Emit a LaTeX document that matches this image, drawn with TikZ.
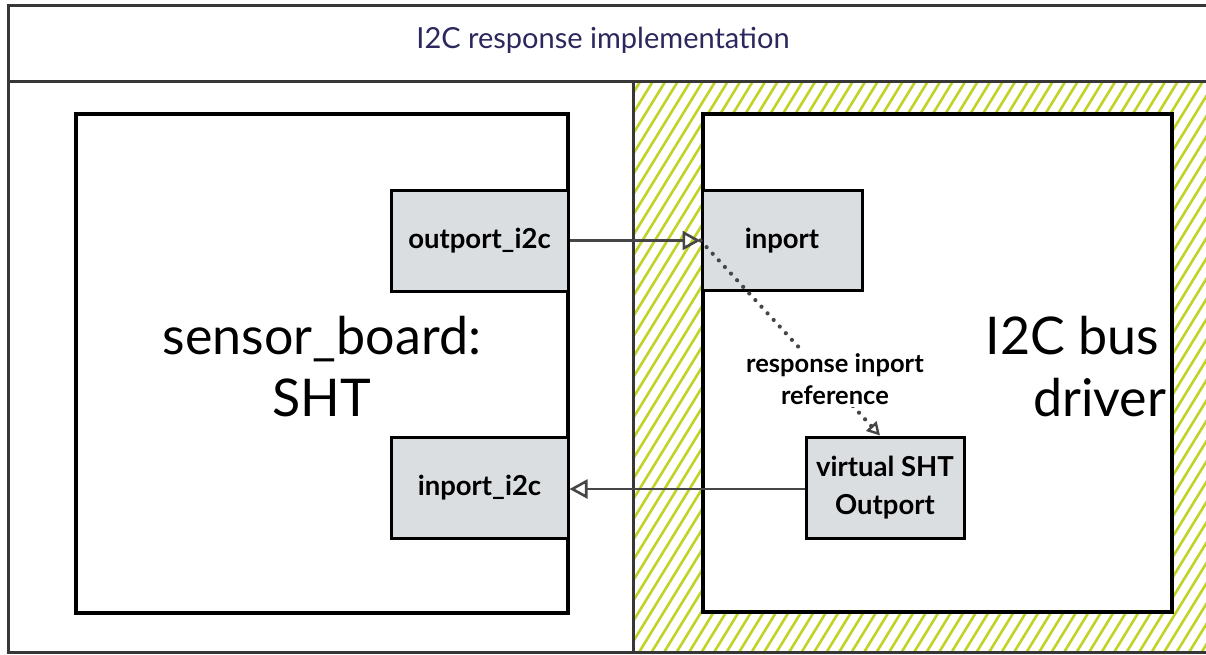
\documentclass[tikz,border=0pt]{standalone}
\usepackage{fontspec}
\setmainfont{Lato}
\usetikzlibrary{arrows.meta}
\definecolor{framegray}{RGB}{55,55,55}
\definecolor{titlenavy}{RGB}{42,40,92}
\definecolor{portfill}{RGB}{218,222,225}
\definecolor{hatchlime}{RGB}{193,211,38}
\definecolor{wiregray}{RGB}{70,70,70}
\tikzset{
  component/.style={draw=black, line width=3.2pt, fill=white, inner sep=0pt},
  portbox/.style={draw=black, line width=3pt, fill=portfill, inner sep=0pt,
    font=\fontsize{27.5}{33}\selectfont\bfseries, align=center},
  wire/.style={draw=wiregray, line width=2.8pt, -{Triangle[open, length=18pt, width=19pt, line width=2.6pt]}},
  refwire/.style={draw=wiregray, line width=4.2pt, line cap=round, dash pattern=on 0pt off 9pt,
    -{Triangle[open, length=13pt, width=14pt, line width=2.4pt, line cap=butt]}},
  bigtext/.style={font=\fontsize{52}{62}\selectfont, align=center},
}
\begin{document}
\begin{tikzpicture}[x=1pt, y=-1pt]
  \useasboundingbox (0,0) rectangle (1206,654);
  % hatched background of the driver side
  \begin{scope}
    \clip (633,81) rectangle (1206,652);
    \foreach \i in {0,...,80} {
      \draw[hatchlime, line width=2.6pt] ({633-360+\i*12.5},658) -- ++(360,-585);
    }
  \end{scope}
  % outer frame, title bar and divider
  \draw[framegray, line width=3pt] (8,5) rectangle (1212,652);
  \draw[framegray, line width=3pt] (8,81) -- (1206,81);
  \draw[framegray, line width=3pt] (633,81) -- (633,652);
  \node[font=\fontsize{29}{35}\selectfont, text=titlenavy] (title) at (603,40) {I2C response implementation};
  % the two components
  \node[component, minimum width=492pt, minimum height=499pt] (board) at (322,363.5) {};
  \node[bigtext] (boardlabel) at (322,367) {sensor\_board:\\SHT};
  \node[component, minimum width=469pt, minimum height=498pt] (driver) at (937.5,363) {};
  \node[bigtext, anchor=center] (driverlabel) at (1072.5,367) {I2C bus\\\hspace*{54pt}driver};
  % ports
  \node[portbox, minimum width=177pt, minimum height=101pt] (outi2c) at (479.5,240.5) {outport\_i2c};
  \node[portbox, minimum width=160pt, minimum height=100pt] (inport) at (782,240.5) {inport};
  \node[portbox, minimum width=177pt, minimum height=101pt] (ini2c) at (479.5,487.5) {inport\_i2c};
  \node[portbox, minimum width=158pt, minimum height=101pt, font=\fontsize{27.5}{38}\selectfont\bfseries] (vsht) at (885,487.5) {virtual SHT\\Outport};
  % connectors
  \draw[wire] (outi2c.east) -- (inport.west);
  \draw[wire] (vsht.west |- 0,489) -- (ini2c.east |- 0,489);
  \coordinate (refend) at ([xshift=-5pt]vsht.north);
  \draw[refwire] (inport.west) -- (refend)
    node[pos=0.71, xshift=7pt, fill=white, inner sep=2pt, font=\fontsize{25.5}{32}\selectfont\bfseries, align=center] (reflabel) {response inport\\reference};
\end{tikzpicture}
\end{document}
